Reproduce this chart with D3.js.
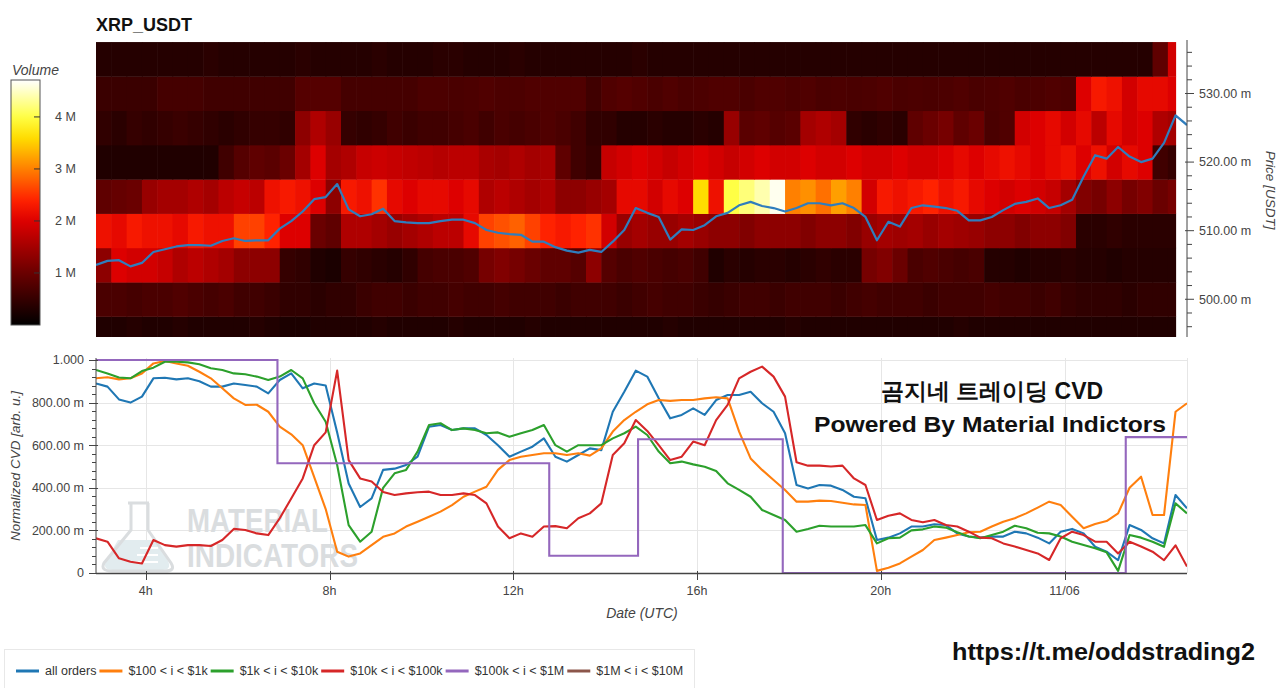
<!DOCTYPE html>
<html><head><meta charset="utf-8">
<script src="https://cdn.jsdelivr.net/npm/d3@7"></script>
<style>
body{margin:0;background:#fff}
svg{display:block}
text{font-family:"Liberation Sans",Arial,Helvetica,sans-serif}
</style>
</head><body>
<svg id="chart" width="1280" height="688"></svg>
<script>
// ---------------- DATA ----------------
const title = "XRP_USDT";
const sampleStart = "2023-11-05T02:55:00Z";   // CVD / price samples every 15 min
const sampleStepMin = 15;
const domainEnd = "2023-11-06T02:40:00Z";

// mid price [USDT]
const priceUSDT = [
0.5050,0.5056,0.5057,0.5048,0.5053,0.5069,0.5073,0.5077,0.5079,0.5079,
0.5078,0.5085,0.5089,0.5085,0.5086,0.5086,0.5103,0.5114,0.5128,0.5146,
0.5149,0.5168,0.5131,0.5121,0.5124,0.5132,0.5114,0.5112,0.5111,0.5111,
0.5114,0.5116,0.5116,0.5111,0.5101,0.5097,0.5095,0.5094,0.5084,0.5084,
0.5076,0.5071,0.5068,0.5072,0.5069,0.5084,0.5101,0.5133,0.5126,0.5120,
0.5087,0.5102,0.5101,0.5108,0.5121,0.5126,0.5137,0.5142,0.5136,0.5133,
0.5128,0.5133,0.5140,0.5140,0.5137,0.5140,0.5133,0.5120,0.5086,0.5113,
0.5106,0.5133,0.5137,0.5135,0.5133,0.5129,0.5115,0.5115,0.5120,0.5130,
0.5139,0.5142,0.5147,0.5133,0.5137,0.5145,0.5179,0.5210,0.5205,0.5222,
0.5208,0.5200,0.5205,0.5228,0.5268,0.5254];

// normalized CVD series
const cvdAllOrders = [
0.890,0.875,0.815,0.800,0.828,0.914,0.917,0.909,0.914,0.900,
0.875,0.875,0.890,0.883,0.875,0.843,0.906,0.937,0.867,0.890,
0.880,0.660,0.420,0.310,0.350,0.484,0.490,0.507,0.546,0.687,
0.695,0.671,0.679,0.679,0.648,0.600,0.546,0.570,0.593,0.632,
0.546,0.523,0.554,0.585,0.577,0.757,0.851,0.950,0.922,0.820,
0.726,0.742,0.773,0.742,0.812,0.836,0.836,0.851,0.797,0.757,
0.656,0.413,0.397,0.413,0.410,0.390,0.358,0.351,0.155,0.166,
0.186,0.218,0.218,0.229,0.225,0.186,0.171,0.166,0.171,0.171,
0.194,0.186,0.166,0.139,0.194,0.207,0.186,0.123,0.100,0.060,
0.225,0.202,0.163,0.139,0.366,0.304];
const cvd100to1k = [
0.914,0.919,0.909,0.914,0.937,0.984,0.995,0.984,0.973,0.945,
0.914,0.867,0.820,0.789,0.790,0.757,0.687,0.651,0.600,0.450,
0.300,0.100,0.077,0.092,0.131,0.170,0.186,0.218,0.241,0.264,
0.288,0.319,0.358,0.382,0.405,0.484,0.530,0.546,0.554,0.562,
0.562,0.554,0.562,0.551,0.585,0.664,0.718,0.757,0.792,0.812,
0.808,0.812,0.812,0.820,0.825,0.820,0.664,0.538,0.484,0.437,
0.390,0.335,0.335,0.340,0.338,0.330,0.322,0.319,0.010,0.025,
0.045,0.077,0.108,0.155,0.166,0.178,0.191,0.194,0.218,0.241,
0.257,0.280,0.307,0.335,0.319,0.264,0.210,0.230,0.244,0.280,
0.400,0.452,0.272,0.272,0.757,0.797];
const cvd1kto10k = [
0.953,0.937,0.918,0.914,0.948,0.964,0.992,0.992,0.989,0.980,
0.961,0.953,0.937,0.933,0.922,0.906,0.922,0.953,0.914,0.797,
0.710,0.507,0.225,0.147,0.194,0.400,0.468,0.484,0.570,0.695,
0.703,0.671,0.679,0.671,0.656,0.660,0.640,0.656,0.671,0.695,
0.600,0.570,0.600,0.600,0.600,0.632,0.656,0.687,0.648,0.570,
0.515,0.523,0.510,0.499,0.479,0.421,0.390,0.358,0.296,0.272,
0.249,0.194,0.207,0.222,0.218,0.218,0.218,0.225,0.139,0.163,
0.166,0.200,0.205,0.218,0.213,0.191,0.171,0.163,0.178,0.194,
0.222,0.210,0.189,0.186,0.171,0.147,0.131,0.116,0.097,0.010,
0.178,0.166,0.147,0.123,0.327,0.280];
const cvd10kto100k = [
0.163,0.147,0.069,0.053,0.045,0.155,0.131,0.124,0.131,0.131,
0.127,0.155,0.207,0.202,0.186,0.178,0.257,0.350,0.444,0.600,
0.660,0.950,0.530,0.444,0.430,0.380,0.366,0.374,0.379,0.382,
0.366,0.366,0.374,0.366,0.327,0.218,0.163,0.186,0.170,0.218,
0.220,0.210,0.257,0.280,0.327,0.554,0.609,0.718,0.667,0.600,
0.530,0.546,0.617,0.600,0.718,0.789,0.914,0.945,0.969,0.922,
0.828,0.520,0.504,0.504,0.500,0.504,0.444,0.413,0.249,0.269,
0.280,0.249,0.238,0.249,0.225,0.218,0.194,0.166,0.163,0.139,
0.124,0.108,0.092,0.061,0.163,0.194,0.178,0.147,0.147,0.092,
0.147,0.124,0.100,0.060,0.130,0.030];
// step series ($100k < i < $1M): value holds from each change time
const cvd100kto1MTimes = ["2023-11-05T02:55:00Z","2023-11-05T06:52:00Z","2023-11-05T12:47:00Z","2023-11-05T14:43:00Z","2023-11-05T17:52:00Z","2023-11-06T01:20:00Z","2023-11-06T02:40:00Z"];
const cvd100kto1M = [1.000,0.515,0.081,0.628,0.000,0.638,0.638];
const cvd1Mto10M = [];   // no visible data

const seriesNames = ["all orders","$100 < i < $1k","$1k < i < $10k","$10k < i < $100k","$100k < i < $1M","$1M < i < $10M"];
const seriesColors = ["#1f77b4","#ff7f0e","#2ca02c","#d62728","#9467bd","#8c564b"];

// volume heatmap (millions) : 20-minute columns, 5 m-USDT price bins
const heatStart = "2023-11-05T02:55:00Z";
const heatStepMin = 20;
const heatEnd = "2023-11-06T02:25:00Z";
const priceBins = [0.495,0.500,0.505,0.510,0.515,0.520,0.525,0.530,0.535];
const binHalf = 0.0025;
const vol495 = [0.3,0.3,0.35,0.3,0.3,0.35,0.3,0.3,0.3,0.3,0.35,0.3,0.25,0.25,0.3,0.3,0.3,0.3,0.35,0.3,0.3,0.3,0.3,0.35,0.3,0.3,0.3,0.3,0.35,0.3,0.3,0.3,0.3,0.3,0.3,0.3,0.3,0.35,0.3,0.3,0.3,0.3,0.3,0.3,0.3,0.35,0.3,0.3,0.3,0.3,0.3,0.3,0.3,0.3,0.3,0.3,0.35,0.3,0.3,0.3,0.3,0.3,0.3,0.3,0.3,0.3,0.3,0.3,0.3,0.3,0.3];
const vol500 = [0.7,0.7,0.65,0.7,0.7,0.75,0.7,0.65,0.7,0.6,0.6,0.55,0.45,0.45,0.4,0.45,0.45,0.55,0.6,0.6,0.55,0.6,0.6,0.65,0.6,0.6,0.65,0.6,0.6,0.6,0.55,0.6,0.6,0.6,0.55,0.6,0.65,0.6,0.6,0.55,0.5,0.55,0.6,0.6,0.55,0.6,0.6,0.6,0.55,0.6,0.65,0.6,0.6,0.6,0.55,0.6,0.6,0.6,0.65,0.6,0.6,0.55,0.6,0.5,0.45,0.45,0.45,0.4,0.45,0.45,0.45];
const vol505 = [1.3,2.0,1.9,1.9,1.8,1.6,1.7,1.6,1.5,1.3,1.3,1.3,0.5,0.45,0.3,0.25,0.5,0.45,0.4,0.35,0.45,0.65,0.7,0.7,0.75,1.1,1.2,1.1,1.0,0.9,0.9,0.8,1.3,0.8,0.7,0.75,0.7,0.65,0.7,0.6,0.3,0.4,0.35,0.4,0.4,0.35,0.4,0.45,0.4,0.4,1.1,1.2,1.0,0.7,0.75,0.7,0.65,0.7,0.35,0.35,0.3,0.35,0.35,0.4,0.35,0.35,0.3,0.35,0.35,0.35,0.35];
const vol510 = [2.2,2.1,2.3,2.2,2.2,2.1,2.3,2.2,2.2,2.6,2.6,2.4,2.0,2.0,1.0,0.9,1.6,1.6,1.5,1.4,1.5,1.6,1.7,1.7,2.1,2.6,2.7,2.8,2.6,2.4,2.3,2.4,2.5,1.9,1.4,1.5,1.4,1.4,1.5,1.4,1.3,1.3,1.2,1.3,1.3,1.3,1.2,1.3,1.3,1.2,1.4,1.5,1.45,1.5,1.4,1.5,1.45,1.4,1.3,1.3,1.2,1.3,1.3,1.2,0.4,0.4,0.45,0.4,0.4,0.4,0.4];
const vol515 = [0.9,0.95,1.0,1.4,1.5,1.5,1.6,1.5,1.7,1.8,1.7,2.2,2.3,2.2,2.0,1.3,2.3,2.2,2.5,2.1,2.0,2.1,2.1,2.0,2.1,1.6,1.7,1.6,1.5,1.6,1.3,1.3,1.4,1.5,2.1,2.1,1.9,2.1,2.0,3.6,2.2,4.0,4.2,4.4,4.65,3.0,3.1,2.9,3.2,3.0,1.9,2.3,2.2,2.3,2.4,2.2,2.3,2.1,2.0,1.9,2.0,1.9,1.8,1.5,1.2,1.1,1.3,1.1,1.2,1.0,1.1];
const vol520 = [0.3,0.3,0.3,0.3,0.3,0.3,0.3,0.3,0.6,0.8,0.9,0.85,1.0,1.5,2.0,1.5,1.6,1.8,1.85,1.8,1.75,1.7,1.65,1.7,1.7,1.55,1.5,1.6,1.5,1.55,0.9,0.6,0.5,1.8,1.9,2.0,1.9,1.8,1.9,2.0,1.9,1.8,1.9,2.0,1.9,1.9,2.0,1.9,1.9,2.0,1.9,1.9,2.0,1.9,1.9,2.0,2.1,2.0,2.1,2.2,2.1,2.0,2.1,2.2,2.0,2.2,1.9,2.1,2.0,0.6,0.5];
const vol525 = [0.45,0.4,0.5,0.45,0.5,0.55,0.5,0.45,0.4,0.45,0.5,0.5,0.45,1.3,1.6,1.4,0.5,0.45,0.5,0.6,0.55,0.6,0.6,0.65,0.7,0.6,0.7,0.65,0.7,0.75,0.7,0.6,0.45,0.45,0.35,0.35,0.4,0.35,0.35,0.4,0.35,1.4,0.85,0.9,0.8,0.85,1.5,1.6,1.5,0.45,0.4,0.45,0.4,0.9,1.0,1.1,0.9,1.0,0.7,0.75,1.9,2.0,2.1,1.9,2.1,1.7,2.1,1.9,2.0,1.6,1.5];
const vol530 = [0.55,0.55,0.55,0.55,0.65,0.65,0.65,0.6,0.6,0.6,0.6,0.6,0.6,0.8,0.8,0.8,0.65,0.65,0.65,0.65,0.65,0.72,0.72,0.7,0.72,0.75,0.72,0.72,0.75,0.75,0.75,0.75,0.6,0.75,0.8,0.75,0.7,0.75,0.7,0.72,0.75,0.75,0.7,0.75,0.75,0.72,0.75,0.7,0.72,0.7,0.72,0.75,0.7,0.72,0.7,0.72,0.75,0.7,0.72,0.75,0.7,0.72,0.75,0.72,2.0,2.3,2.2,1.9,2.1,2.1,2.0];
const vol535 = [0.35,0.35,0.35,0.35,0.35,0.35,0.35,0.4,0.35,0.35,0.35,0.35,0.35,0.4,0.35,0.35,0.35,0.35,0.4,0.35,0.35,0.35,0.4,0.4,0.35,0.35,0.35,0.4,0.35,0.35,0.35,0.35,0.35,0.35,0.35,0.4,0.35,0.35,0.35,0.35,0.35,0.35,0.35,0.35,0.35,0.35,0.35,0.35,0.35,0.35,0.35,0.35,0.35,0.35,0.35,0.35,0.35,0.35,0.35,0.35,0.35,0.35,0.35,0.35,0.35,0.35,0.35,0.35,0.35,0.9,1.9];
const volumeRows = [vol495,vol500,vol505,vol510,vol515,vol520,vol525,vol530,vol535];

const priceTicks = [0.500,0.510,0.520,0.530];
const cvdTicks = [0,0.2,0.4,0.6,0.8,1.0];
const xTickTimes = ["2023-11-05T04:00:00Z","2023-11-05T08:00:00Z","2023-11-05T12:00:00Z","2023-11-05T16:00:00Z","2023-11-05T20:00:00Z","2023-11-06T00:00:00Z"];
const xTickLabels = ["4h","8h","12h","16h","20h","11/06"];
const volumeTicks = [1,2,3,4];
const volumeMax = 4.71;

// ---------------- LAYOUT ----------------
const L = 96, R = 1187;
const hmTop = 40, hmBot = 337;
const cvTop = 358, cvBot = 573;
const AX = "#444";

const svg = d3.select("#chart");
const parse = s => new Date(s);
const t0 = parse(sampleStart).getTime();
const sampleTimes = priceUSDT.map((_, k) => new Date(t0 + k * sampleStepMin * 60000));

const x = d3.scaleUtc().domain([parse(sampleStart), parse(domainEnd)]).range([L, R]);
const yP = d3.scaleLinear().domain([0.4945, 0.5378]).range([hmBot, hmTop]);
const yC = d3.scaleLinear().domain([0, 1]).range([cvBot, 360]);

const heatColor = d3.scaleLinear()
  .domain([0, 1, 2, 2.4, 3, 3.6, 4, volumeMax])
  .range(["#000000","#6a0000","#dd0000","#ff2200","#ff8000","#ffdd00","#ffff45","#ffffff"])
  .clamp(true);

const defs = svg.append("defs");
defs.append("clipPath").attr("id","hmclip").append("rect")
  .attr("x",L).attr("y",hmTop).attr("width",R-L).attr("height",hmBot-hmTop);
defs.append("clipPath").attr("id","cvclip").append("rect")
  .attr("x",L).attr("y",cvTop-2).attr("width",R-L).attr("height",cvBot-cvTop+3);

// Title
svg.append("text").attr("x",L).attr("y",31).attr("font-size",18).attr("font-weight","bold")
  .attr("fill","#111").text(title);

// ---------------- HEATMAP ----------------
const hs = parse(heatStart).getTime(), he = parse(heatEnd);
const cells = [];
volumeRows.forEach((row, bi) => row.forEach((v, c) => {
  const a = new Date(hs + c * heatStepMin * 60000);
  let b = new Date(hs + (c + 1) * heatStepMin * 60000);
  if (b > he) b = he;
  cells.push({bin: priceBins[bi], a, b, v});
}));
const hm = svg.append("g").attr("clip-path","url(#hmclip)");
hm.selectAll("rect").data(cells).join("rect")
  .attr("x", d => x(d.a))
  .attr("width", d => Math.max(0, x(d.b) - x(d.a)) + 0.6)
  .attr("y", d => yP(d.bin + binHalf))
  .attr("height", d => yP(d.bin - binHalf) - yP(d.bin + binHalf) + 0.4)
  .attr("fill", d => heatColor(d.v));

hm.append("path").datum(priceUSDT)
  .attr("fill","none").attr("stroke","#2f7dbd").attr("stroke-width",2.2).attr("stroke-linejoin","round")
  .attr("d", d3.line().x((d,i) => x(sampleTimes[i])).y(d => yP(d)));

// price axis (right)
const pa = svg.append("g").attr("transform",`translate(${R},0)`);
pa.append("line").attr("x1",0).attr("x2",0).attr("y1",hmTop).attr("y2",hmBot).attr("stroke",AX);
const minorP = d3.range(0.496, 0.5375, 0.002).filter(v => priceTicks.every(t => Math.abs(t - v) > 1e-6));
pa.selectAll("line.mn").data(minorP).join("line").attr("class","mn")
  .attr("x1",0).attr("x2",5).attr("y1",d=>yP(d)).attr("y2",d=>yP(d)).attr("stroke",AX);
pa.selectAll("line.mj").data(priceTicks).join("line").attr("class","mj")
  .attr("x1",-2).attr("x2",7).attr("y1",d=>yP(d)).attr("y2",d=>yP(d)).attr("stroke",AX);
pa.selectAll("text").data(priceTicks).join("text")
  .attr("x",12).attr("y",d=>yP(d)).attr("dy","0.35em").attr("font-size",12.5).attr("fill",AX)
  .text(d => (d*1000).toFixed(2) + " m");
svg.append("text").attr("transform",`translate(1266,190) rotate(90)`).attr("text-anchor","middle")
  .attr("font-size",13.5).attr("font-style","italic").attr("fill",AX).text("Price [USDT]");

// colour bar
const cbX = 11, cbW = 29, cbTop = 80, cbBot = 325;
const yCb = d3.scaleLinear().domain([0, volumeMax]).range([cbBot, cbTop]);
const grad = defs.append("linearGradient").attr("id","cbgrad").attr("x1",0).attr("y1",1).attr("x2",0).attr("y2",0);
d3.range(0, 1.0001, 0.02).forEach(f => grad.append("stop").attr("offset", f).attr("stop-color", heatColor(f * volumeMax)));
svg.append("rect").attr("x",cbX).attr("y",cbTop).attr("width",cbW).attr("height",cbBot-cbTop)
  .attr("fill","url(#cbgrad)").attr("stroke","#555").attr("stroke-width",1);
svg.selectAll("line.cbt").data(volumeTicks).join("line").attr("class","cbt")
  .attr("x1",cbX+cbW-6).attr("x2",cbX+cbW).attr("y1",d=>yCb(d)).attr("y2",d=>yCb(d)).attr("stroke","#333");
svg.selectAll("text.cbl").data(volumeTicks).join("text").attr("class","cbl")
  .attr("x",55).attr("y",d=>yCb(d)).attr("dy","0.35em").attr("font-size",12.5).attr("fill",AX)
  .text(d => d + " M");
svg.append("text").attr("x",cbX+1).attr("y",75).attr("font-size",14).attr("font-style","italic")
  .attr("fill",AX).text("Volume");

// ---------------- CVD PANEL ----------------
const grid = svg.append("g").attr("stroke","#e6e6e6").attr("stroke-width",1);
grid.selectAll("line.h").data(cvdTicks).join("line").attr("class","h")
  .attr("x1",L).attr("x2",R).attr("y1",d=>Math.round(yC(d))+0.5).attr("y2",d=>Math.round(yC(d))+0.5);
grid.selectAll("line.v").data(xTickTimes).join("line").attr("class","v")
  .attr("x1",d=>Math.round(x(parse(d)))+0.5).attr("x2",d=>Math.round(x(parse(d)))+0.5).attr("y1",cvTop).attr("y2",cvBot);
grid.append("line").attr("x1",R+0.5).attr("x2",R+0.5).attr("y1",cvTop).attr("y2",cvBot);

// watermark
const wm = svg.append("g");
wm.append("path").attr("d","M113,570 L162,570 Q172,570 168,561 L157,540 L118,540 L106,561 Q102,570 113,570 Z")
  .attr("fill","#e2ecef");
wm.append("path").attr("d","M128,503 L149,503 M131,503 L131,530 L104,563 Q100,571 112,571 L165,571 Q176,571 171,563 L148,530 L148,503")
  .attr("fill","none").attr("stroke","#dadddf").attr("stroke-width",3).attr("stroke-linejoin","round");
wm.selectAll("line.m").data([548,555,562]).join("line").attr("class","m")
  .attr("x1",(d,i)=>140-i*3).attr("x2",158).attr("y1",d=>d).attr("y2",d=>d)
  .attr("stroke","#ffffff").attr("stroke-width",2);
wm.append("text").attr("x",187).attr("y",532).attr("font-size",33).attr("font-weight","bold")
  .attr("font-family","'Liberation Sans Narrow','DejaVu Sans Condensed',sans-serif")
  .attr("textLength",141).attr("lengthAdjust","spacingAndGlyphs").attr("fill","#dadddf").text("MATERIAL");
wm.append("text").attr("x",187).attr("y",567).attr("font-size",33).attr("font-weight","bold")
  .attr("font-family","'Liberation Sans Narrow','DejaVu Sans Condensed',sans-serif")
  .attr("textLength",171).attr("lengthAdjust","spacingAndGlyphs").attr("fill","#dadddf").text("INDICATORS");

// lines
const cv = svg.append("g").attr("clip-path","url(#cvclip)");
const line = d3.line().x((d,i)=>x(sampleTimes[i])).y(d=>yC(d));
const sampled = [cvdAllOrders, cvd100to1k, cvd1kto10k, cvd10kto100k];
sampled.forEach((s, i) => {
  cv.append("path").datum(s).attr("fill","none").attr("stroke",seriesColors[i])
    .attr("stroke-width",2.1).attr("stroke-linejoin","round").attr("d",line);
});
const stepPts = cvd100kto1M.map((v,i)=>({t:parse(cvd100kto1MTimes[i]), v}));
cv.append("path").datum(stepPts).attr("fill","none").attr("stroke",seriesColors[4]).attr("stroke-width",2.1)
  .attr("d", d3.line().curve(d3.curveStepAfter).x(d=>x(d.t)).y(d=>yC(d.v)));
if (cvd1Mto10M.length) {
  cv.append("path").datum(cvd1Mto10M).attr("fill","none").attr("stroke",seriesColors[5]).attr("stroke-width",2.1).attr("d",line);
}

// y axis (left)
const ya = svg.append("g").attr("transform",`translate(${L},0)`);
ya.append("line").attr("x1",0).attr("x2",0).attr("y1",cvTop).attr("y2",cvBot).attr("stroke",AX);
const minorC = d3.range(0.04, 1.0, 0.04).filter(v => cvdTicks.every(t => Math.abs(t - v) > 1e-6));
ya.selectAll("line.mn").data(minorC).join("line").attr("class","mn")
  .attr("x1",-4).attr("x2",0).attr("y1",d=>Math.round(yC(d))+0.5).attr("y2",d=>Math.round(yC(d))+0.5).attr("stroke",AX);
ya.selectAll("line.mj").data(cvdTicks).join("line").attr("class","mj")
  .attr("x1",-7).attr("x2",2).attr("y1",d=>Math.round(yC(d))+0.5).attr("y2",d=>Math.round(yC(d))+0.5).attr("stroke",AX);
ya.selectAll("text").data(cvdTicks).join("text")
  .attr("x",-12).attr("y",d=>yC(d)).attr("dy","0.35em").attr("text-anchor","end").attr("font-size",12.5).attr("fill",AX)
  .text(d => d === 0 ? "0" : d >= 1 ? d.toFixed(3) : (d*1000).toFixed(2) + " m");
svg.append("text").attr("transform","translate(20,466) rotate(-90)").attr("text-anchor","middle")
  .attr("font-size",13.5).attr("font-style","italic").attr("fill",AX).text("Normalized CVD [arb. u.]");

// x axis (bottom)
const xa = svg.append("g").attr("transform",`translate(0,${cvBot})`);
xa.append("line").attr("x1",L).attr("x2",R).attr("y1",0.5).attr("y2",0.5).attr("stroke",AX).attr("stroke-width",1.3);
xa.selectAll("line.t").data(xTickTimes).join("line").attr("class","t")
  .attr("x1",d=>Math.round(x(parse(d)))+0.5).attr("x2",d=>Math.round(x(parse(d)))+0.5).attr("y1",-2).attr("y2",7).attr("stroke",AX);
xa.selectAll("text").data(xTickTimes).join("text")
  .attr("x",d=>x(parse(d))).attr("y",22).attr("text-anchor","middle").attr("font-size",12.5).attr("fill",AX)
  .text((d,i)=>xTickLabels[i]);
svg.append("text").attr("x",642).attr("y",618).attr("text-anchor","middle").attr("font-size",14)
  .attr("font-style","italic").attr("fill",AX).text("Date (UTC)");

// overlay caption
svg.append("text").attr("x",992).attr("y",399).attr("text-anchor","middle")
  .attr("font-family","'Noto Sans CJK KR','Noto Sans',sans-serif").attr("font-weight","bold").attr("font-size",23)
  .attr("fill","#111").text("곰지네 트레이딩 CVD");
svg.append("text").attr("x",990).attr("y",432).attr("text-anchor","middle")
  .attr("font-family","'Noto Sans CJK KR','Noto Sans',sans-serif").attr("font-weight","bold").attr("font-size",22)
  .attr("textLength",352).attr("lengthAdjust","spacingAndGlyphs")
  .attr("fill","#111").text("Powered By Material Indictors");

// link
svg.append("text").attr("x",952).attr("y",660)
  .attr("font-family","'Noto Sans','Noto Sans CJK KR',sans-serif").attr("font-weight","bold").attr("font-size",23)
  .attr("textLength",303).attr("lengthAdjust","spacingAndGlyphs")
  .attr("fill","#111").text("https://t.me/oddstrading2");

// ---------------- LEGEND ----------------
const lg = svg.append("g");
lg.append("rect").attr("x",4.5).attr("y",649.5).attr("width",690).attr("height",45)
  .attr("fill","#fff").attr("stroke","#e8e8e8");
let lx = 16;
seriesNames.forEach((n, i) => {
  lg.append("line").attr("x1",lx).attr("x2",lx+23).attr("y1",671).attr("y2",671)
    .attr("stroke",seriesColors[i]).attr("stroke-width",3);
  const t = lg.append("text").attr("x",lx+29).attr("y",671).attr("dy","0.35em")
    .attr("font-size",12.5).attr("fill","#333").text(n);
  lx = lx + 29 + t.node().getComputedTextLength() + 3;
});
</script>
</body></html>
